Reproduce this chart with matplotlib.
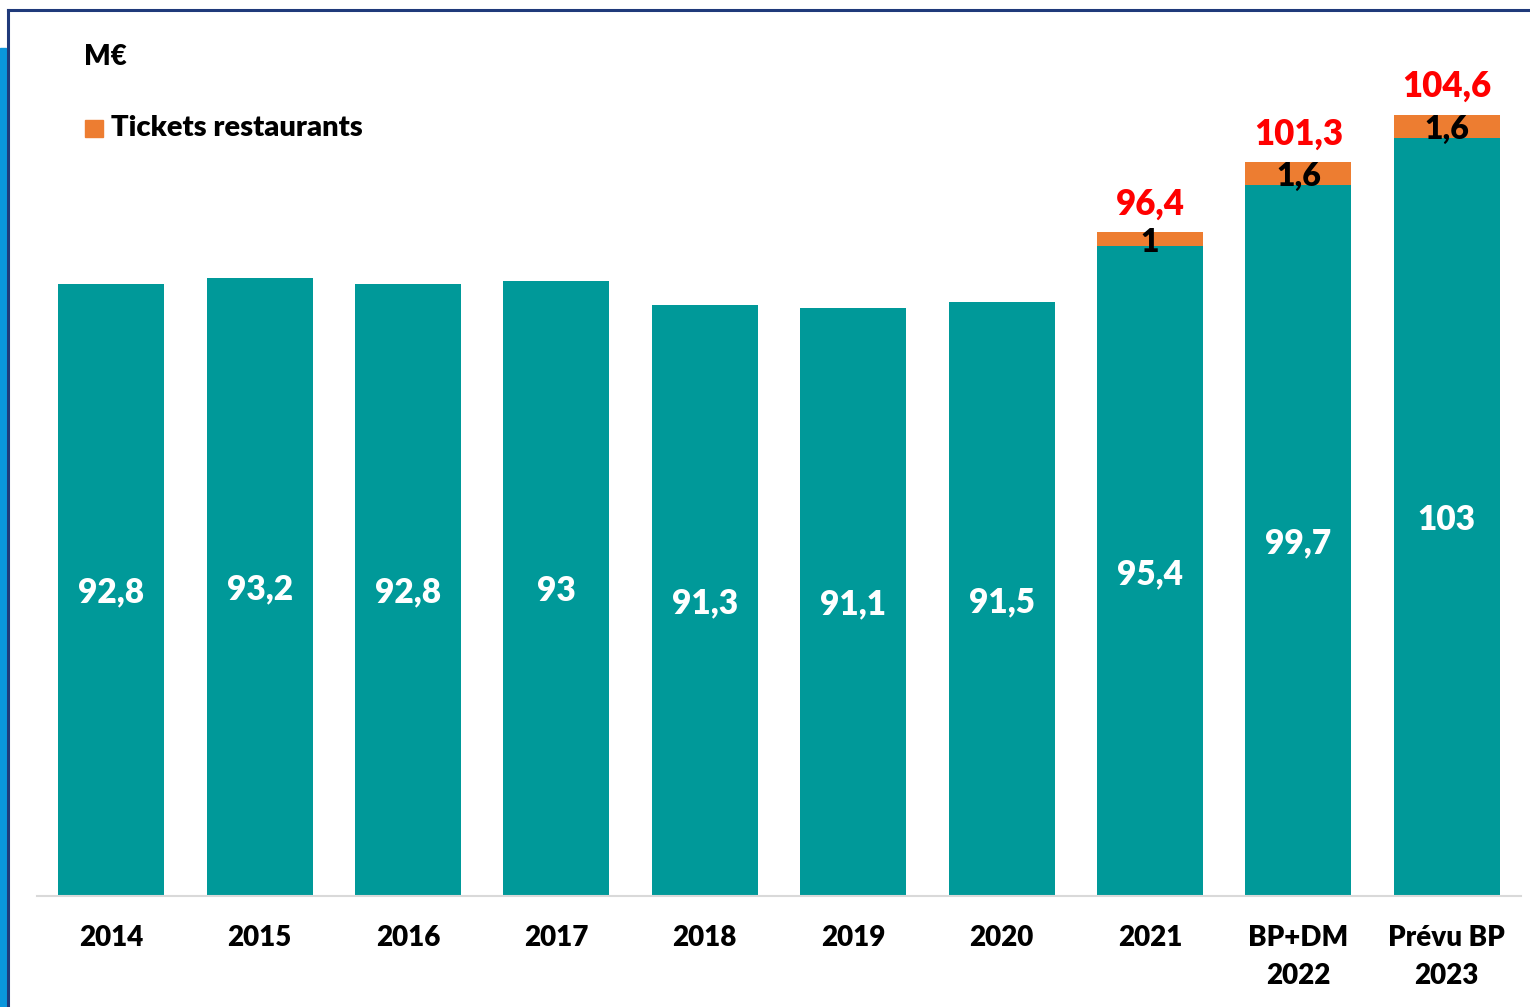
import matplotlib
matplotlib.use("Agg")
import matplotlib.pyplot as plt
from matplotlib.patches import Rectangle
from matplotlib.lines import Line2D

# data
categories = ['2014', '2015', '2016', '2017', '2018', '2019', '2020', '2021',
              'BP+DM\n2022', 'Prévu BP\n2023']
base_values = [92.8, 93.2, 92.8, 93.0, 91.3, 91.1, 91.5, 95.4, 99.7, 103.0]
tickets_values = [0, 0, 0, 0, 0, 0, 0, 1.0, 1.6, 1.6]
base_labels = ['92,8', '93,2', '92,8', '93', '91,3', '91,1', '91,5', '95,4', '99,7', '103']
tickets_labels = ['', '', '', '', '', '', '', '1', '1,6', '1,6']
total_labels = ['', '', '', '', '', '', '', '96,4', '101,3', '104,6']

TEAL = '#009999'
ORANGE = '#ED7D31'
FONT = ['Lato', 'DejaVu Sans']
WEIGHT = 'heavy'

plt.rcParams['font.family'] = FONT
plt.rcParams['font.weight'] = WEIGHT

W, H = 1530, 1007
fig = plt.figure(figsize=(W / 100, H / 100), dpi=100)

# axes placement: baseline at y=896px, value 50 at bottom
ymin, ymax = 50, 110
px_per_unit = 14.31
base_px = 896
top_px = base_px - (ymax - ymin) * px_per_unit
ax = fig.add_axes([37 / W, (H - base_px) / H, (1521 - 37) / W, (base_px - top_px) / H])

x = list(range(len(categories)))
bottoms = [ymin] * len(x)
heights = [v - ymin for v in base_values]
ax.bar(x, heights, bottom=bottoms, width=0.714, color=TEAL, zorder=2)
ax.bar(x, tickets_values, bottom=base_values, width=0.714, color=ORANGE, zorder=2)

for i in x:
    ax.text(i, (ymin + base_values[i]) / 2 - 0.2, base_labels[i], ha='center', va='center',
            color='white', fontsize=24, fontweight=WEIGHT)
    if tickets_values[i]:
        ax.text(i, base_values[i] + tickets_values[i] / 2 - 0.25, tickets_labels[i],
                ha='center', va='center', color='black', fontsize=23, fontweight=WEIGHT)
        ax.text(i, base_values[i] + tickets_values[i] + 0.8, total_labels[i],
                ha='center', va='bottom', color='#FF0000', fontsize=25, fontweight=WEIGHT)

ax.set_xlim(-0.5, len(x) - 0.5)
ax.set_ylim(ymin, ymax)
ax.set_xticks(x)
ax.set_xticklabels(categories, fontsize=20, fontweight=WEIGHT, linespacing=1.55)
ax.tick_params(axis='x', length=0, pad=21)
ax.set_yticks([])
for s in ['top', 'right', 'left']:
    ax.spines[s].set_visible(False)
ax.spines['bottom'].set_color('#D9D9D9')
ax.spines['bottom'].set_linewidth(1.5)
ax.patch.set_alpha(0)

# titles / legend
fig.text(84 / W, 1 - 57 / H, 'M€', fontsize=20, fontweight=WEIGHT, va='center', ha='left')
fig.add_artist(Rectangle((85 / W, 1 - 137 / H), 18 / W, 17 / H, color=ORANGE,
                         transform=fig.transFigure))
fig.text(111 / W, 1 - 128 / H, 'Tickets restaurants', fontsize=21, fontweight=WEIGHT,
         va='center', ha='left')

# frame decoration
fig.add_artist(Rectangle((0, 0), 6 / W, 1 - 48 / H, color='#0A96DC',
                         transform=fig.transFigure))
fig.add_artist(Line2D([8 / W, 1], [1 - 10 / H, 1 - 10 / H], color='#1F3A7A', lw=2.2,
                      transform=fig.transFigure))
fig.add_artist(Line2D([8 / W, 8 / W], [0, 1 - 10 / H], color='#1F3A7A', lw=2.2,
                      transform=fig.transFigure))

fig.savefig('out.png', dpi=100)
